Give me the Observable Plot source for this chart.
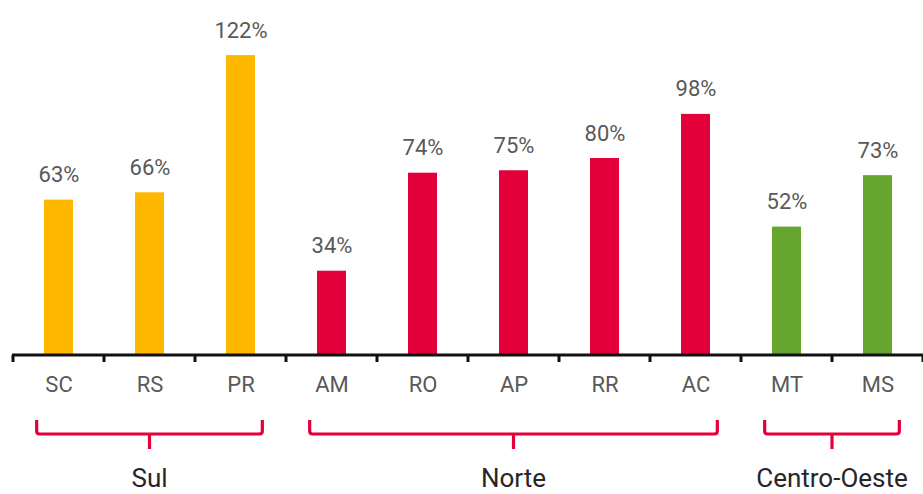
<!DOCTYPE html>
<html>
<head>
<meta charset="utf-8">
<script src="https://cdn.jsdelivr.net/npm/d3@7"></script>
<script src="https://cdn.jsdelivr.net/npm/@observablehq/plot@0.6"></script>
<style>
  html, body { margin: 0; padding: 0; background: #fff; }
  #chart { width: 923px; height: 494px; }
</style>
</head>
<body>
<div id="chart"></div>
<script>
const states = ["SC", "RS", "PR", "AM", "RO", "AP", "RR", "AC", "MT", "MS"];
const values = [63, 66, 122, 34, 74, 75, 80, 98, 52, 73];
const regionOf = ["Sul", "Sul", "Sul", "Norte", "Norte", "Norte", "Norte", "Norte", "Centro-Oeste", "Centro-Oeste"];
const groupNames = ["Sul", "Norte", "Centro-Oeste"];
const groupFirst = ["SC", "AM", "MT"];
const groupLast = ["PR", "AC", "MS"];
const groupColors = ["#FFB800", "#E4003A", "#67A62E"];

const data = states.map((s, i) => ({state: s, value: values[i], region: regionOf[i], label: values[i] + "%"}));
const groups = groupNames.map((g, i) => ({name: g, first: groupFirst[i], last: groupLast[i]}));

const FONT = "Roboto, 'Noto Sans', sans-serif";
const RED = "#E4003A";

function axisMark(index, scales, values, dims) {
  const x = scales.x, y = scales.y;
  const bw = x(states[1]) - x(states[0]);
  const y0 = y(0);
  const g = d3.create("svg:g");
  g.append("line")
    .attr("x1", dims.marginLeft).attr("x2", dims.width)
    .attr("y1", y0 + 1).attr("y2", y0 + 1)
    .attr("stroke", "#111").attr("stroke-width", 3);
  const bounds = states.map(s => x(s)).concat([x(states[states.length - 1]) + bw]);
  for (const b of bounds) {
    g.append("line")
      .attr("x1", b).attr("x2", b)
      .attr("y1", y0 + 1).attr("y2", y0 + 8)
      .attr("stroke", "#111").attr("stroke-width", 3);
  }
  return g.node();
}

function bracketMark(index, scales, values, dims) {
  const x = scales.x, y = scales.y;
  const bw = x(states[1]) - x(states[0]);
  const y0 = y(0);
  const g = d3.create("svg:g");
  for (const gr of groups) {
    const c1 = x(gr.first) + bw / 2, c2 = x(gr.last) + bw / 2;
    const xm = (c1 + c2) / 2;
    const half = (c2 - c1) / 2 + 0.24 * bw;
    const x1 = xm - half, x2 = xm + half;
    const top = y0 + 66, bot = y0 + 80;
    g.append("path")
      .attr("d", `M${x1},${top}V${bot - 3}Q${x1},${bot} ${x1 + 3},${bot}H${x2 - 3}Q${x2},${bot} ${x2},${bot - 3}V${top}`)
      .attr("fill", "none").attr("stroke", RED).attr("stroke-width", 3.2);
    g.append("line")
      .attr("x1", xm).attr("x2", xm)
      .attr("y1", bot).attr("y2", bot + 15)
      .attr("stroke", RED).attr("stroke-width", 3.2);
    g.append("text")
      .attr("x", xm).attr("y", y0 + 133)
      .attr("text-anchor", "middle")
      .attr("font-family", FONT).attr("font-size", 26)
      .attr("fill", "#262626")
      .text(gr.name);
  }
  return g.node();
}

const chart = Plot.plot({
  width: 923,
  height: 494,
  marginLeft: 12,
  marginRight: 0,
  marginTop: 0,
  marginBottom: 140,
  style: {fontFamily: FONT, background: "#fff", overflow: "visible"},
  x: {domain: states, padding: 0, label: null},
  y: {domain: [0, 354 / 2.45], axis: null},
  color: {domain: groupNames, range: groupColors},
  marks: [
    Plot.barY(data, {x: "state", y: "value", fill: "region", insetLeft: 31, insetRight: 31}),
    Plot.text(data, {x: "state", y: "value", text: "label", lineAnchor: "bottom", dy: -18, fontSize: 22, fill: "#595959"}),
    axisMark,
    Plot.axisX({tickSize: 0, tickPadding: 22, fontSize: 22, color: "#595959", label: null}),
    bracketMark
  ]
});
document.getElementById("chart").append(chart);
</script>
</body>
</html>
